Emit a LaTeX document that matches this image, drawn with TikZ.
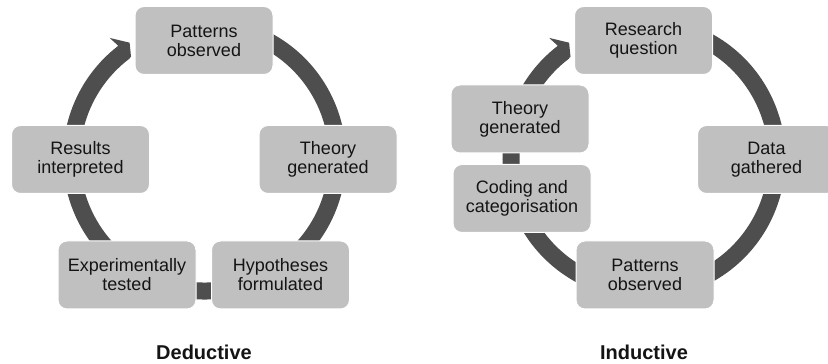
\documentclass[tikz,border=0pt]{standalone}
\usepackage{fontspec}
\setmainfont{Liberation Sans}
\definecolor{boxgray}{RGB}{192,192,192}
\definecolor{ringgray}{RGB}{78,78,78}
\definecolor{txt}{RGB}{20,20,20}
\tikzset{
  stagebox/.style={rectangle, rounded corners=9pt, fill=boxgray, draw=white, line width=1pt,
    minimum width=138pt, minimum height=68pt, inner sep=0pt, align=center,
    text=txt, font=\fontsize{18}{19}\selectfont},
  ring/.style={draw=ringgray, line width=17pt},
  headfill/.style={fill=ringgray},
  caption/.style={font=\fontsize{20}{22}\selectfont\bfseries, text=txt}
}
\begin{document}
\begin{tikzpicture}[x=1pt,y=1pt]
\useasboundingbox (0,0) rectangle (828,364);
\clip (0,0) rectangle (828,364);
\fill[white] (0,0) rectangle (828,364);

% ---------------- Deductive ----------------
\coordinate (c1) at (204.5,206);
\draw[ring, shift={(c1)}] (115:133) arc[start angle=115, end angle=-233, radius=133];
\fill[headfill, shift={(c1)}] (127.5:141) -- (128.3:153) -- (123:137.5) -- (126:125) -- (127.5:125) -- cycle;

\node[stagebox] (d1) at (204,323.5) {Patterns\\observed};
\node[stagebox] (d2) at (328,204.5) {Theory\\generated};
\node[stagebox] (d3) at (280.5,89) {Hypotheses\\formulated};
\node[stagebox] (d4) at (127,89) {Experimentally\\tested};
\node[stagebox] (d5) at (80.5,204.5) {Results\\interpreted};
\node[caption] (dlab) at (204,12) {Deductive};

% ---------------- Inductive ----------------
\coordinate (c2) at (644,206);
\draw[ring, shift={(c2)}] (115:133) arc[start angle=115, end angle=-233, radius=133];
\fill[headfill, shift={(c2)}] (127.5:141) -- (128.3:153) -- (123:137.5) -- (126:125) -- (127.5:125) -- cycle;

\node[stagebox] (i1) at (643.5,323.5) {Research\\question};
\node[stagebox] (i2) at (766.5,204.5) {Data\\gathered};
\node[stagebox] (i3) at (645,89) {Patterns\\observed};
\node[stagebox] (i4) at (522,165.5) {Coding and\\categorisation};
\node[stagebox] (i5) at (520,245) {Theory\\generated};
\node[caption] (ilab) at (644,12) {Inductive};
\end{tikzpicture}
\end{document}
